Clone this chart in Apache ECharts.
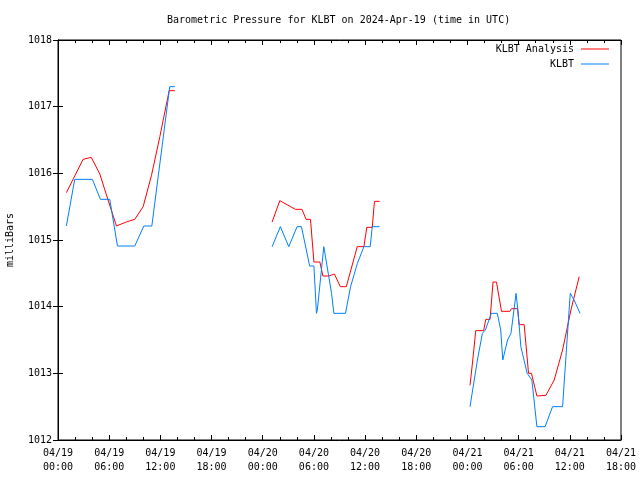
<!DOCTYPE html>
<html>
<head>
<meta charset="utf-8">
<script src="https://cdn.jsdelivr.net/npm/echarts@6/dist/echarts.min.js"></script>
<style>html,body{margin:0;padding:0;background:#fff}#c{width:640px;height:480px}</style>
</head>
<body>
<div id="c"></div>
<script>
// hours since 2024-04-19 00:00 UTC; null breaks the line
var analysisHours = [0.98,2.94,3.9,4.9,5.87,6.85,8.0,9.0,9.98,10.96,11.94,13.03,13.7,
  19,
  25.1,26.0,27.83,28.6,29.08,29.6,30.0,30.7,31.05,31.75,31.9,32.4,33.1,33.8,35.08,35.86,36.2,36.84,37.1,37.7,
  43,
  48.3,48.6,48.97,49.9,50.15,50.65,51.0,51.4,51.99,52.97,53.16,53.87,54.06,54.65,55.16,55.5,56.14,57.2,58.17,59.15,60.13,61.1];
var analysisValues = [1015.71,1016.21,1016.24,1015.99,1015.6,1015.21,1015.27,1015.31,1015.5,1015.97,1016.55,1017.24,1017.24,
  null,
  1015.27,1015.59,1015.46,1015.46,1015.31,1015.31,1014.67,1014.67,1014.46,1014.46,1014.49,1014.49,1014.3,1014.3,1014.9,1014.9,1015.19,1015.19,1015.58,1015.58,
  null,
  1012.82,1013.17,1013.64,1013.64,1013.81,1013.81,1014.37,1014.37,1013.93,1013.93,1013.97,1013.97,1013.73,1013.73,1013.0,1013.0,1012.66,1012.67,1012.9,1013.35,1013.95,1014.45];

var klbtHours = [0.98,1.96,4.03,4.97,6.07,6.97,9.0,10.06,11.0,13.1,13.7,
  19,
  25.1,26.07,27.05,28.03,28.54,29.5,30.0,30.3,30.4,31.16,32.07,32.34,33.7,34.3,35.1,35.86,36.6,36.84,37.7,
  43,
  48.3,49.17,49.75,50.1,50.8,51.5,51.9,52.14,52.7,53.1,53.7,53.95,54.26,55.0,55.55,56.14,57.1,57.98,59.15,60.05,60.5,61.2];
var klbtValues = [1015.21,1015.91,1015.91,1015.61,1015.61,1014.91,1014.91,1015.21,1015.21,1017.3,1017.3,
  null,
  1014.9,1015.2,1014.9,1015.2,1015.2,1014.61,1014.61,1013.9,1013.95,1014.9,1014.2,1013.9,1013.9,1014.3,1014.65,1014.9,1014.9,1015.2,1015.2,
  null,
  1012.5,1013.2,1013.6,1013.65,1013.9,1013.9,1013.65,1013.2,1013.5,1013.6,1014.2,1013.9,1013.4,1013.0,1012.9,1012.2,1012.2,1012.5,1012.5,1014.2,1014.1,1013.9];

var yTicks = [1012,1013,1014,1015,1016,1017,1018];
var seriesNames = ['KLBT Analysis','KLBT'];

function pairs(h, v){ return h.map(function(t,i){ return [t, v[i]]; }); }
var FONT = 'DejaVu Sans Mono';
var FS = 10;

function xlab(h){
  var day = 19 + Math.floor(h/24);
  var hh = h % 24;
  return '04/' + day + '\n' + (hh<10?'0':'') + hh + ':00';
}

var axisCommon = {
  axisLine:{show:true, lineStyle:{color:'#000', width:1}},
  splitLine:{show:false}
};

var chart = echarts.init(document.getElementById('c'), null, {renderer:'canvas'});
chart.setOption({
  animation:false,
  backgroundColor:'#fff',
  title:{text:'Barometric Pressure for KLBT on 2024-Apr-19 (time in UTC)', left:162, top:10,
    textStyle:{fontFamily:FONT, fontSize:FS, fontWeight:'normal', color:'#000'}},
  legend:[
    {data:[seriesNames[0]], right:26, top:39, orient:'vertical', align:'right', itemWidth:28, itemHeight:1, icon:'rect',
      textStyle:{fontFamily:FONT, fontSize:FS, color:'#000', padding:[0,2,0,0]}},
    {data:[seriesNames[1]], right:26, top:54, orient:'vertical', align:'right', itemWidth:28, itemHeight:1, icon:'rect',
      textStyle:{fontFamily:FONT, fontSize:FS, color:'#000', padding:[0,2,0,0]}}
  ],
  grid:{left:58, right:19, top:40, bottom:40, containLabel:false, outerBoundsMode:'none',
    show:true, borderColor:'#000', borderWidth:1, backgroundColor:'transparent'},
  xAxis:[
    Object.assign({type:'value', min:0, max:66, interval:6, position:'bottom',
      axisTick:{show:true, inside:true, length:5, lineStyle:{color:'#000'}},
      minorTick:{show:true, splitNumber:3, length:3, lineStyle:{color:'#000'}},
      axisLabel:{formatter:xlab, fontFamily:FONT, fontSize:FS, color:'#000', lineHeight:14, margin:6, showMinLabel:true, showMaxLabel:true}
    }, axisCommon),
    Object.assign({type:'value', min:0, max:66, interval:6, position:'top',
      axisTick:{show:true, inside:true, length:5, lineStyle:{color:'#000'}},
      minorTick:{show:true, splitNumber:3, length:3, lineStyle:{color:'#000'}},
      axisLabel:{show:false}
    }, axisCommon)
  ],
  yAxis:[
    Object.assign({type:'value', min:yTicks[0], max:yTicks[yTicks.length-1], interval:1, position:'left',
      name:'milliBars', nameLocation:'middle', nameGap:43, nameRotate:90,
      nameTextStyle:{fontFamily:FONT, fontSize:FS, color:'#000'},
      axisTick:{show:true, inside:true, length:5, lineStyle:{color:'#000'}},
      axisLabel:{fontFamily:FONT, fontSize:FS, color:'#000', margin:6, formatter:function(v){return String(v);}}
    }, axisCommon),
    Object.assign({type:'value', min:yTicks[0], max:yTicks[yTicks.length-1], interval:1, position:'right',
      axisTick:{show:true, inside:true, length:5, lineStyle:{color:'#000'}},
      axisLabel:{show:false}
    }, axisCommon)
  ],
  series:[
    {name:seriesNames[0], type:'line', data:pairs(analysisHours, analysisValues), showSymbol:false, symbol:'none',
      lineStyle:{color:'#ff0000', width:1}, itemStyle:{color:'#ff0000'}, connectNulls:false},
    {name:seriesNames[1], type:'line', data:pairs(klbtHours, klbtValues), showSymbol:false, symbol:'none',
      lineStyle:{color:'#0080ff', width:1}, itemStyle:{color:'#0080ff'}, connectNulls:false}
  ]
});
</script>
</body>
</html>
